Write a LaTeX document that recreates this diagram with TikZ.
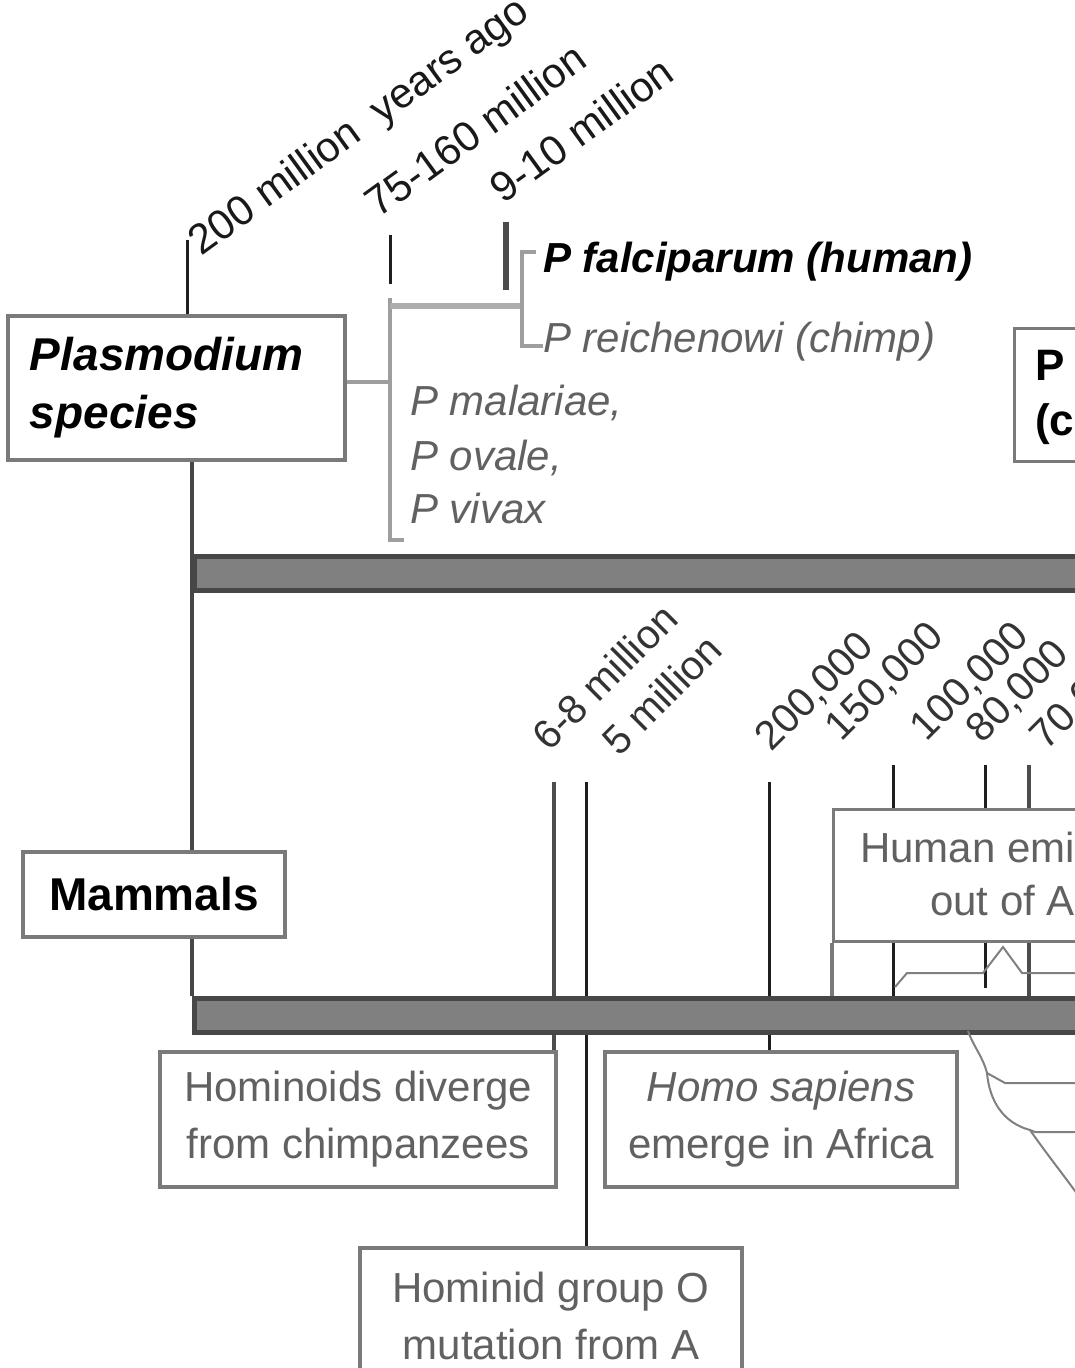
\documentclass[tikz,border=0pt]{standalone}
\usepackage{fontspec}
\setmainfont{Liberation Sans}
\newcommand\myfs[2]{\fontsize{#1}{#2}\selectfont}
\begin{document}
\begin{tikzpicture}[x=0.75pt,y=-0.75pt,
  tickln/.style={line width=2.25pt,draw=black!88},
  mainln/.style={line width=2.8pt,draw=black!72},
  brk/.style={line width=3pt,draw=black!38},
  thinln/.style={line width=1.5pt,draw=black!50},
  boxn/.style={draw=black!52,line width=2.4pt,fill=white,inner sep=0pt},
  barn/.style={draw=black!72,fill=black!50,line width=3.6pt,inner sep=0pt,anchor=north west,minimum width=675pt,minimum height=25.5pt},
  toplab/.style={anchor=base west,rotate=36,inner sep=0pt,text=black!90,font=\myfs{31.5}{38}},
  lowlab/.style={anchor=base west,rotate=45,inner sep=0pt,text=black!80,font=\myfs{30.5}{36}},
  plain/.style={inner sep=0pt,anchor=base west},
  graytext/.style={text=black!62},
]
\useasboundingbox (0,0) rectangle (1075,1368);
\clip (0,0) rectangle (1075,1368);

% ---------- boxes ----------
\node[boxn,minimum width=252.75pt,minimum height=108pt,inner xsep=16.5pt,text width=219.75pt,align=left,
      font=\myfs{34.5}{43.5}\bfseries\itshape] (plas) at (176.5,388) {Plasmodium\\species};
\node[boxn,minimum width=196.5pt,minimum height=63.75pt,font=\myfs{34.5}{43.5}\bfseries] (mam) at (154,894.5) {Mammals};

% ---------- top time labels ----------
\node[toplab] (l200) at (201,257) {200 million\ \ years ago};
\node[toplab] (l75) at (378,219) {75-160 million};
\node[toplab] (l9) at (503,205) {9-10 million};

\coordinate (t200) at (187,240);
\draw[tickln] (t200) -- (t200 |- plas.north);
\coordinate (t75a) at (390,235); \coordinate (t75b) at (390,284);
\draw[tickln] (t75a) -- (t75b);
\coordinate (t9a) at (506,222); \coordinate (t9b) at (506,290);
\draw[line width=3.8pt,draw=black!70] (t9a) -- (t9b);

% ---------- species ----------
\node[plain,font=\myfs{31.5}{38}\bfseries\itshape] (falc) at (543,272) {P falciparum (human)};
\node[plain,graytext,font=\myfs{31.5}{38}\itshape] (reich) at (543,352) {P reichenowi (chimp)};
\node[plain,graytext,font=\myfs{31.5}{38}\itshape] (mal) at (410,415) {P malariae,};
\node[plain,graytext,font=\myfs{31.5}{38}\itshape] (ova) at (410,470) {P ovale,};
\node[plain,graytext,font=\myfs{31.5}{38}\itshape] (viv) at (410,523) {P vivax};

\coordinate (bk) at (390,382);
\coordinate (bktop) at (390,298);
\coordinate (bkbot) at (390,540);
\coordinate (bkjoin) at (522,306);
\draw[brk,line width=3.6pt] (plas.east |- bk) -- (bk);
\draw[brk] (bktop) -- (bkbot) -- ++(14,0);
\draw[brk,line width=4.5pt,draw=black!32] (bktop |- bkjoin) -- (bkjoin);
\draw[brk,line width=2.6pt] (falc.west |- 0,252) ++(-7,0) -- (522,252) -- (522,346) -- (reich.west |- 0,346);

% right-hand box (cut by the edge)
\node[boxn,anchor=north west,minimum width=225pt,minimum height=99.75pt] (pbox) at (1013,327) {};
\node[plain,font=\myfs{33}{40}\bfseries] (pboxa) at (1035,380) {P};
\node[plain,font=\myfs{33}{40}\bfseries] (pboxb) at (1035,435) {(c};

% ---------- main vertical line ----------
\coordinate (mx) at (192,0);
\draw[mainln] (plas.south -| mx) -- (mam.north -| mx);

% ---------- lower time labels ----------
\node[lowlab] (m68) at (549,753) {6-8 million};
\node[lowlab] (m5) at (619,758) {5 million};
\node[lowlab] (k200) at (771,753) {200,000};
\node[lowlab] (k150) at (841,743) {150,000};
\node[lowlab] (k100) at (926,743) {100,000};
\node[lowlab] (k80) at (982,745) {80,000};
\node[lowlab] (k70) at (1046,752) {70,000};

% lower boxes
\node[boxn,minimum width=297pt,minimum height=101.25pt,align=center,graytext,font=\myfs{31.5}{42.75}] (hom) at (358,1119.5) {Hominoids diverge\\from chimpanzees};
\node[boxn,minimum width=264pt,minimum height=101.25pt,align=center,graytext,font=\myfs{31.5}{42.75}] (sap) at (781,1119.5) {{\itshape Homo sapiens}\\emerge in Africa};
\node[boxn,minimum width=286.5pt,minimum height=101.25pt,align=center,graytext,font=\myfs{31.5}{42.75}] (homo) at (551,1315.5) {Hominid group O\\mutation from A};

% bars (as nodes)
\node[barn] (bar1) at (192,554) {};
\node[barn] (bar2) at (192,996) {};
\draw[mainln] (mam.south -| mx) -- (bar2.north west);

% lower ticks
\coordinate (c68) at (554,782);
\coordinate (c5) at (586,782);
\coordinate (c200) at (769,782);
\coordinate (c100) at (893,765);
\coordinate (c80) at (985,765);
\coordinate (c70) at (1029,765);
\draw[line width=3pt,draw=black!70] (c68) -- (c68 |- hom.north);
\draw[tickln] (c5) -- (c5 |- homo.north);
\draw[tickln] (c200) -- (c200 |- sap.north);
\draw[tickln] (c100) -- (c100 |- bar2.north);
\draw[tickln] (c80) -- (985,988);
\draw[line width=3.6pt,draw=black!70] (c70) -- (c70 |- bar2.north);

% human emigration box
\node[boxn,anchor=north west,minimum width=301.5pt,minimum height=99pt] (hum) at (832,808) {};
\draw[draw=black!52,line width=2.4pt] (hum.south west) -- (hum.south west |- bar2.north);
\draw[tickln] (c100 |- hum.south) -- (c100 |- bar2.north);
\draw[tickln] (c80 |- hum.south) -- (985,988);
\draw[line width=3.6pt,draw=black!70] (c70 |- hum.south) -- (c70 |- bar2.north);
\node[plain,graytext,font=\myfs{31.5}{38}] (huma) at (860,862) {Human emi};
\node[plain,graytext,font=\myfs{31.5}{38}] (humb) at (930,915) {out of A};
\draw[thinln] (895,987) -- (907,973) -- (983,973) -- (1003,947) -- (1022,973) -- (1080,973);

% redraw bars on top of lines
\node[barn] at (192,554) {};
\node[barn] at (192,996) {};

% bottom-right curves
\coordinate (cv0) at (968,1031);
\coordinate (cv1) at (987,1073);
\coordinate (cv2) at (1030,1130);
\draw[thinln] (cv0) to[out=-70,in=105] (cv1) to[out=-85,in=165] (cv2) to[out=-55,in=125] (1085,1205);
\draw[thinln] (cv1) -- (1005,1083) -- (1085,1083);
\draw[thinln] (cv2) -- (1035,1132) -- (1085,1132);
\end{tikzpicture}
\end{document}
